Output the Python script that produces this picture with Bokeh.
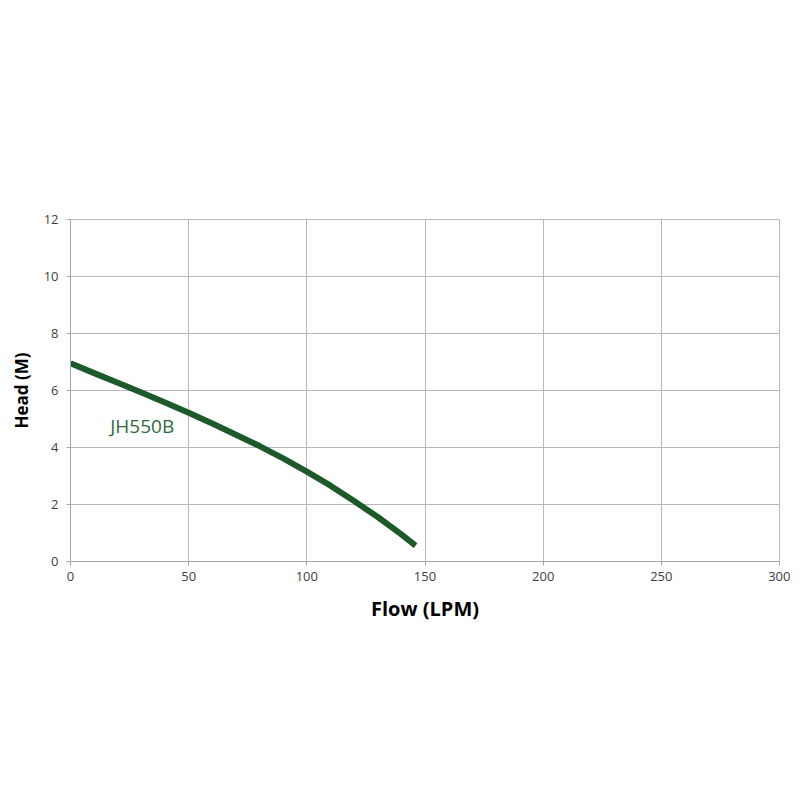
from bokeh.plotting import figure
from bokeh.models import Range1d, FixedTicker, ColumnDataSource
from bokeh.core.properties import value
from bokeh.embed import file_html
from bokeh.resources import INLINE

flow = [0, 10, 20, 30, 40, 50, 60, 70, 80, 90, 100, 110, 120, 130, 140, 146]
head = [6.96, 6.61, 6.27, 5.93, 5.58, 5.22, 4.84, 4.45, 4.05, 3.62, 3.15, 2.66, 2.12, 1.56, 0.95, 0.56]
series_name = "JH550B"
label_pos = (16.8, 4.77)
x_ticks = [0, 50, 100, 150, 200, 250, 300]
y_ticks = [0, 2, 4, 6, 8, 10, 12]

p = figure(width=790, height=780, output_backend="svg", toolbar_location=None,
           x_range=Range1d(0, 300), y_range=Range1d(0, 12),
           min_border_left=70, min_border_right=11, min_border_top=219, min_border_bottom=219)
p.background_fill_color = "white"
p.border_fill_color = "white"
p.outline_line_color = "#b8b8b8"
p.outline_line_width = 1

p.xaxis.ticker = FixedTicker(ticks=x_ticks)
p.yaxis.ticker = FixedTicker(ticks=y_ticks)
for ax in (p.xaxis[0], p.yaxis[0]):
    ax.axis_line_color = "#a6a6a6"
    ax.major_tick_line_color = "#a6a6a6"
    ax.major_tick_out = 4
    ax.major_tick_in = 0
    ax.minor_tick_line_color = None
    ax.major_label_text_font = "Open Sans"
    ax.major_label_text_font_size = "13px"
    ax.major_label_text_color = "#404040"
    ax.axis_label_text_font = "Open Sans"
    ax.axis_label_text_font_style = "bold"
    ax.axis_label_text_color = "#000000"

p.xaxis.axis_label = "Flow (LPM)"
p.xaxis.axis_label_text_font_size = "20px"
p.xaxis.major_label_standoff = 6
p.xaxis.axis_label_standoff = 11
p.yaxis.axis_label = "Head (M)"
p.yaxis.axis_label_text_font_size = "17px"
p.yaxis.major_label_standoff = 8
p.yaxis.axis_label_standoff = 8

p.xgrid.grid_line_color = "#b8b8b8"
p.ygrid.grid_line_color = "#b8b8b8"
p.xgrid.grid_line_width = 1
p.ygrid.grid_line_width = 1

src = ColumnDataSource(dict(x=flow, y=head))
p.line("x", "y", source=src, line_color="#1c5a2a", line_width=6, line_join="round")

p.text(x=[label_pos[0]], y=[label_pos[1]], text=[series_name],
       text_font=value("Open Sans"), text_font_size="19px", text_color="#2d6b3c",
       text_align="left", text_baseline="middle")

open("out.html", "w").write(file_html(p, INLINE))
